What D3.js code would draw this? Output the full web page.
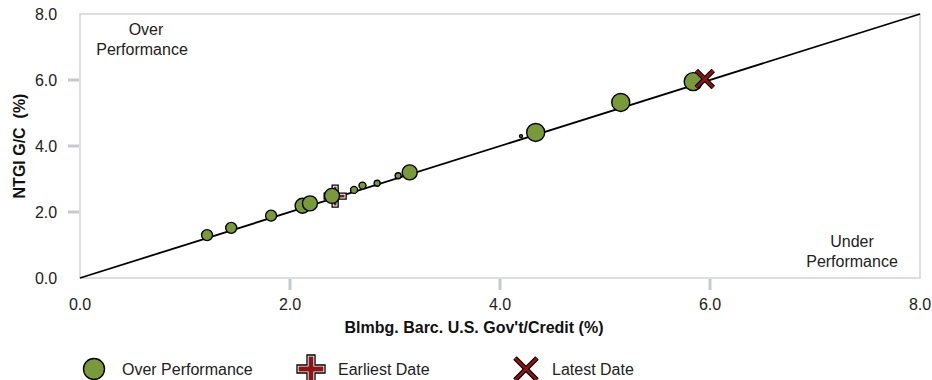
<!DOCTYPE html>
<html><head><meta charset="utf-8">
<script src="https://cdn.jsdelivr.net/npm/d3@7"></script>
<style>body{margin:0;background:#fff;}svg{display:block;font-family:"Liberation Sans",Arial,sans-serif;}</style>
</head><body><svg id="c" width="932" height="380"></svg>
<script>
const xVals = [1.21, 1.44, 1.82, 2.12, 2.19, 2.40, 2.61, 2.69, 2.83, 3.03, 3.14, 4.20, 4.34, 5.15, 5.84];
const yVals = [1.30, 1.52, 1.89, 2.19, 2.26, 2.49, 2.67, 2.80, 2.87, 3.10, 3.20, 4.30, 4.41, 5.32, 5.95];
const weights = [5.5, 5.5, 5.5, 7.5, 7.5, 7.5, 3.5, 3.5, 3, 3, 7.5, 1.5, 9, 9, 9];
const earliest = [2.43, 2.48];
const latest = [5.95, 6.03];
const tickVals = [0, 2, 4, 6, 8];
const markedTicks = [2, 4, 6];
const xTitle = "Blmbg. Barc. U.S. Gov't/Credit (%)";
const yTitle = "NTGI G/C  (%)";
const legendLabels = ["Over Performance", "Earliest Date", "Latest Date"];

const svg = d3.select("#c");
const L = 80, R = 920, T = 14, B = 278;
const x = d3.scaleLinear().domain([0, 8]).range([L, R]);
const y = d3.scaleLinear().domain([0, 8]).range([B, T]);
const r = d3.scaleLinear().domain([0, 10]).range([0, 10]);
const green = "#789a3a", red = "#8b1414", gridC = "#d4d4d4", tickC = "#c5cad0";

// frame
svg.append("rect").attr("x", L).attr("y", T).attr("width", R - L).attr("height", B - T)
  .attr("fill", "none").attr("stroke", gridC).attr("stroke-width", 1.5);

// ticks
svg.selectAll(".xt").data(markedTicks).join("line")
  .attr("x1", d => x(d)).attr("x2", d => x(d)).attr("y1", B + 1).attr("y2", B + 12)
  .attr("stroke", tickC).attr("stroke-width", 3);
svg.selectAll(".yt").data(markedTicks).join("line")
  .attr("y1", d => y(d)).attr("y2", d => y(d)).attr("x1", L - 12).attr("x2", L - 1)
  .attr("stroke", tickC).attr("stroke-width", 3);

// tick labels
const fmt = d3.format(".1f");
svg.selectAll(".xl").data(tickVals).join("text")
  .attr("x", d => x(d)).attr("y", 310).attr("text-anchor", "middle")
  .attr("font-size", 16).attr("fill", "#222").text(fmt);
svg.selectAll(".yl").data(tickVals).join("text")
  .attr("x", 46).attr("y", d => y(d) + 6).attr("text-anchor", "middle")
  .attr("font-size", 16).attr("fill", "#222").text(fmt);

// titles
svg.append("text").attr("x", 474).attr("y", 333).attr("text-anchor", "middle")
  .attr("font-size", 16).attr("font-weight", "bold").attr("fill", "#111").text(xTitle);
svg.append("text").attr("transform", "translate(25,146) rotate(-90)").attr("text-anchor", "middle")
  .attr("font-size", 16).attr("font-weight", "bold").attr("fill", "#111")
  .attr("xml:space", "preserve").style("white-space", "pre").text(yTitle);

// annotations
const ann = [["Over", 146, 35], ["Performance", 142, 55], ["Under", 852, 247], ["Performance", 852, 267]];
svg.selectAll(".ann").data(ann).join("text")
  .attr("x", d => d[1]).attr("y", d => d[2]).attr("text-anchor", "middle")
  .attr("font-size", 16).attr("fill", "#222").text(d => d[0]);

// diagonal
svg.append("line").attr("x1", x(0)).attr("y1", y(0)).attr("x2", x(8)).attr("y2", y(8))
  .attr("stroke", "#000").attr("stroke-width", 1.8);

function plus(g, cx, cy, s, t) {
  const p = `M${-t},${-s}H${t}V${-t}H${s}V${t}H${t}V${s}H${-t}V${t}H${-s}V${-t}H${-t}Z`;
  g.append("path").attr("d", p).attr("transform", `translate(${cx},${cy})`)
    .attr("fill", "#fff").attr("stroke", "#000").attr("stroke-width", 1.3);
  const t2 = t - 1.6, s2 = s - 1.6;
  const p2 = `M${-t2},${-s2}H${t2}V${-t2}H${s2}V${t2}H${t2}V${s2}H${-t2}V${t2}H${-s2}V${-t2}H${-t2}Z`;
  g.append("path").attr("d", p2).attr("transform", `translate(${cx},${cy})`).attr("fill", red);
}
function cross(g, cx, cy, s) {
  [[-s, -s, s, s], [-s, s, s, -s]].forEach(a => {
    g.append("line").attr("x1", cx + a[0]).attr("y1", cy + a[1]).attr("x2", cx + a[2]).attr("y2", cy + a[3])
      .attr("stroke", "#000").attr("stroke-width", 5);
  });
  [[-s, -s, s, s], [-s, s, s, -s]].forEach(a => {
    g.append("line").attr("x1", cx + a[0]).attr("y1", cy + a[1]).attr("x2", cx + a[2]).attr("y2", cy + a[3])
      .attr("stroke", red).attr("stroke-width", 2.6);
  });
}

const g = svg.append("g");
plus(g, x(earliest[0]), y(earliest[1]), 11, 3);
g.selectAll("circle").data(xVals.map((v, i) => [v, yVals[i], weights[i]])).join("circle")
  .attr("cx", d => x(d[0])).attr("cy", d => y(d[1])).attr("r", d => r(d[2]))
  .attr("fill", green).attr("stroke", "#000").attr("stroke-width", 1.4);
cross(svg, x(latest[0]), y(latest[1]), 8.5);

// legend
const ly = 369;
svg.append("circle").attr("cx", 94).attr("cy", ly).attr("r", 10.5)
  .attr("fill", green).attr("stroke", "#000").attr("stroke-width", 1.4);
plus(svg, 311, ly, 14, 4);
cross(svg, 526, ly, 11);
const lx = [122, 338, 552];
svg.selectAll(".lg").data(legendLabels).join("text")
  .attr("x", (d, i) => lx[i]).attr("y", ly + 6).attr("font-size", 16).attr("fill", "#222").text(d => d);
</script></body></html>
